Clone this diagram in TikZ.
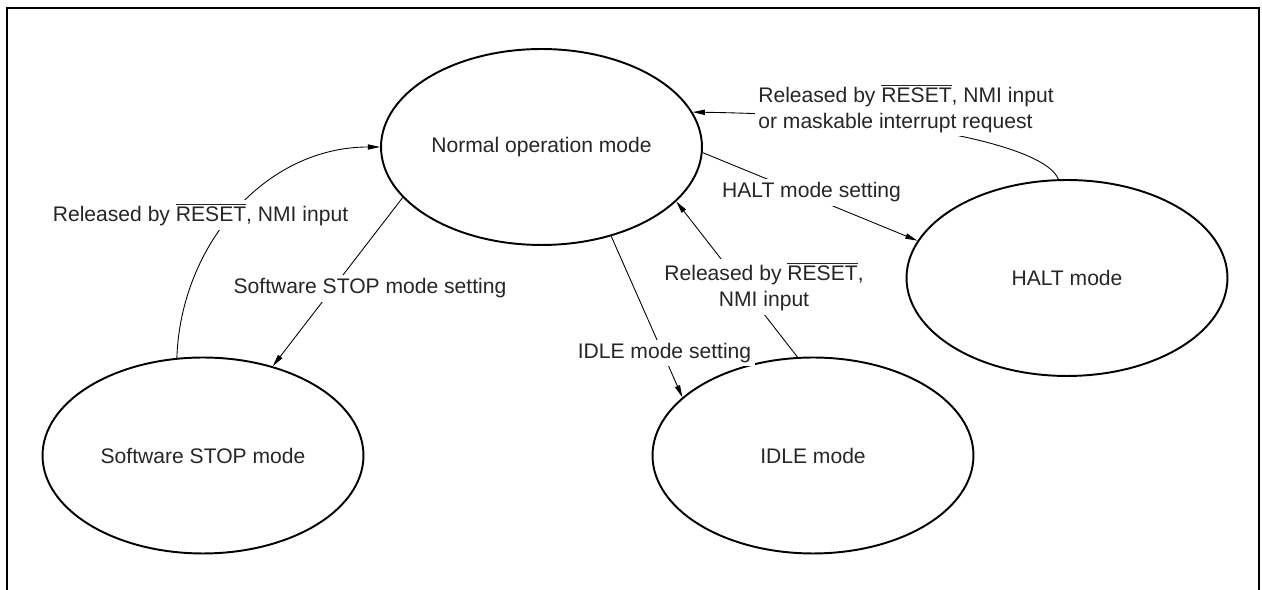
\documentclass[tikz,border=0pt]{standalone}
\usepackage{fontspec}
\setmainfont{Liberation Sans}
\usepackage{tikz}
\usetikzlibrary{shapes.geometric,arrows.meta}

\newcommand{\rst}{$\overline{\mbox{RESET}}$}

\begin{document}
\begin{tikzpicture}[x=0.02cm, y=0.02cm,
	every node/.style={font=\fontsize{12}{14.8}\selectfont, text=black!85},
	mode/.style={draw, ellipse, line width=1.1pt, minimum width=6.42cm, minimum height=3.92cm, inner sep=0pt},
	conn/.style={line width=0.5pt, -{Triangle[length=7pt, width=3pt]}},
	lbl/.style={fill=white, inner sep=2pt}]
	\useasboundingbox (0,0) rectangle (1262,-590);
	\draw[line width=1.4pt] (7,-590) -- (7,-8) -- (1259,-8) -- (1259,-590);
	% the four modes
	\node[mode] (normal) at (541.5,-147) {Normal operation mode};
	\node[mode] (halt) at (1067,-278) {HALT mode};
	\node[mode] (stop) at (203,-455.5) {Software STOP mode};
	\node[mode] (idle) at (813,-455.5) {IDLE mode};
	% transitions
	\draw[conn] (stop.105) to[out=88, in=180] (normal.west);
	\draw[conn] (normal.200) -- (stop.52);
	\draw[conn] (normal.308) -- (idle.156);
	\draw[conn] (idle.99) -- (normal.338);
	\draw[conn] (normal.358) -- (halt.166);
	\draw[conn] (halt.95) .. controls (1045,-145) and (900,-115) .. (normal.13);
	% labels
	\node[lbl, anchor=base] (stoprel) at (200.5,-221.7) {Released by \rst, NMI input};
	\node[lbl, anchor=base] (stopset) at (370,-294) {Software STOP mode setting};
	\node[lbl, anchor=base] (idleset) at (664.5,-358.3) {IDLE mode setting};
	\node[lbl, anchor=base] (haltset) at (811.5,-197.7) {HALT mode setting};
	\node[lbl, align=center] (idlerel) at (764,-287) {Released by \rst,\\NMI input};
	\node[lbl, align=left, anchor=west] (haltrel) at (754.5,-108.4) {Released by \rst, NMI input\\or maskable interrupt request};
\end{tikzpicture}
\end{document}
